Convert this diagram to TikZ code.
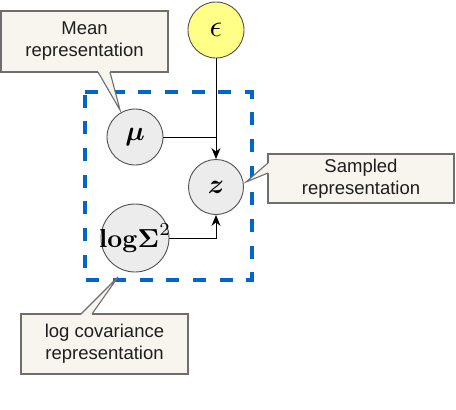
\documentclass[tikz,border=0pt]{standalone}
\usepackage{amsmath}
\usepackage{graphicx}
\usepackage[no-math]{fontspec}
\setmainfont{Liberation Sans}
\usetikzlibrary{arrows.meta}
\definecolor{cream}{RGB}{247,245,237}
\definecolor{nodegray}{RGB}{236,236,236}
\definecolor{edgegray}{RGB}{80,80,80}
\definecolor{boxgray}{RGB}{110,110,110}
\definecolor{epsyellow}{RGB}{255,255,136}
\definecolor{dashblue}{RGB}{0,102,204}
\definecolor{txt}{RGB}{30,30,30}
\newcommand{\bigmath}[2]{\scalebox{#1}{$#2$}}
\begin{document}
\begin{tikzpicture}[x=1pt,y=-1pt,
  var/.style={circle,draw=edgegray,fill=nodegray,line width=0.9pt,inner sep=0pt},
  noise/.style={var,fill=epsyellow},
  note/.style={rectangle,draw=boxgray,fill=cream,line width=1.1pt,align=center,inner sep=0pt,text=txt,font=\fontsize{18.5}{22}\selectfont},
  ptrfill/.style={fill=cream},
  ptrline/.style={draw=boxgray,line width=1.1pt,line join=miter},
  conn/.style={draw=black,line width=0.9pt},
  arr/.style={conn,-{Stealth[length=11pt,width=9pt]}},
  plate/.style={draw=dashblue,line width=4pt,dash pattern=on 13pt off 13.67pt}]
\useasboundingbox (0,0) rectangle (456,410);
\fill[white] (0,0) rectangle (456,410);
% plate
\draw[plate] (85,92) -- (251.5,92) -- (251.5,280) -- (85,280) -- cycle;
% variables
\node[var,minimum size=56pt] (mu) at (135,137) {\makebox[0pt]{\bigmath{2.75}{\boldsymbol{\mu}}}};
\node[noise,minimum size=56pt] (eps) at (216,30) {\makebox[0pt]{\bigmath{3.1}{\epsilon}}};
\node[var,minimum size=55pt] (z) at (216,187) {\makebox[0pt]{\bigmath{2.75}{\boldsymbol{z}}}};
\node[var,minimum size=68pt] (ls) at (135,238) {\makebox[0pt]{\bigmath{2.6}{\mathbf{log}\boldsymbol{\Sigma}^{2}}}};
% connectors
\coordinate (j1) at (216,137);
\coordinate (j2) at (216,238);
\draw[conn] (mu.east) -- (j1);
\draw[arr] (eps) -- (z);
\draw[arr] (ls.east) -- (j2) -- (z.south);
% callouts
\node[note,minimum width=167pt,minimum height=61pt] (mean) at (84.5,41.5) {Mean\\representation};
\node[note,minimum width=186pt,minimum height=49pt] (samp) at (361,178.5) {Sampled\\representation};
\node[note,minimum width=167pt,minimum height=60pt] (lcov) at (104.5,344) {log covariance\\representation};
\coordinate (tmean) at (120,110);
\coordinate (tsamp) at (246,182);
\coordinate (tlcov) at (118,277);
\fill[ptrfill] (98,70) -- (98,72) -- (tmean) -- (110,72) -- (110,70) -- cycle;
\draw[ptrline] (98,72) -- (tmean) -- (110,72);
\fill[ptrfill] (270,163) -- (268,163) -- (tsamp) -- (268,173) -- (270,173) -- cycle;
\draw[ptrline] (268,163) -- (tsamp) -- (268,173);
\fill[ptrfill] (81,316) -- (81,314) -- (tlcov) -- (92,314) -- (92,316) -- cycle;
\draw[ptrline] (81,314) -- (tlcov) -- (92,314);
\end{tikzpicture}
\end{document}
